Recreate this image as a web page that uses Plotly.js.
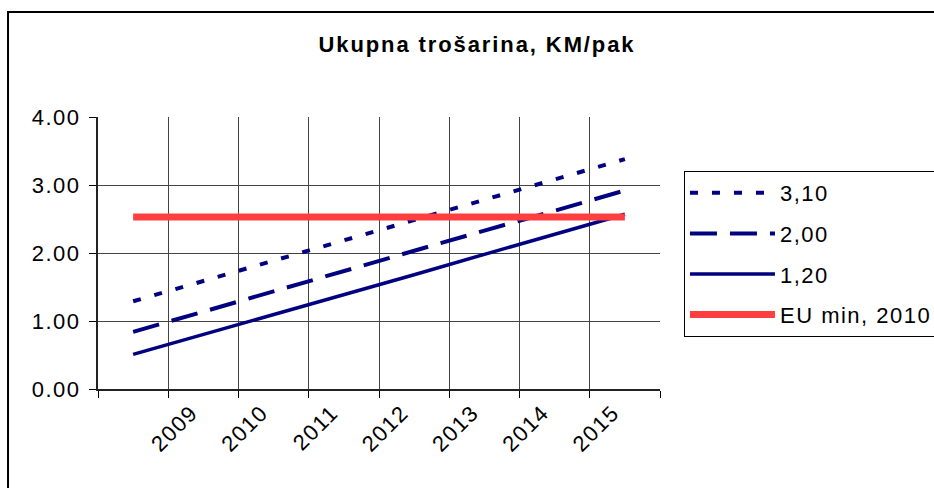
<!DOCTYPE html>
<html>
<head>
<meta charset="utf-8">
<script src="https://cdn.plot.ly/plotly-3.0.1.min.js"></script>
<style>
  body { margin: 0; padding: 0; background: #fff; }
  #chart { width: 934px; height: 488px; }
  text { letter-spacing: 1.5px; }
  text.gtitle { letter-spacing: 1.9px; }
</style>
</head>
<body>
<div id="chart"></div>
<script>
// Categories (first category has no printed label in the original)
const years = ['2008', '2009', '2010', '2011', '2012', '2013', '2014', '2015'];
const yearLabels = ['', '2009', '2010', '2011', '2012', '2013', '2014', '2015'];

// Series values (KM per pack)
const s310 = [1.29, 1.59, 1.89, 2.19, 2.48, 2.78, 3.08, 3.38];
const s200 = [0.84, 1.14, 1.43, 1.73, 2.03, 2.33, 2.62, 2.92];
const s120 = [0.51, 0.80, 1.10, 1.39, 1.68, 1.98, 2.27, 2.57];
const euMin = [2.53, 2.53, 2.53, 2.53, 2.53, 2.53, 2.53, 2.53];

const seriesNames = ['3,10', '2,00', '1,20', 'EU min, 2010'];
const yTicks = [0, 1, 2, 3, 4];

const navy = '#000080';
const FONT = '"Liberation Sans", Arial, sans-serif';

const traces = [
  { x: years, y: s310, name: seriesNames[0], mode: 'lines', legendgroup: 'a',
    line: { color: navy, width: 4, dash: '8px,14px' } },
  { x: years, y: s200, name: seriesNames[1], mode: 'lines', legendgroup: 'b',
    line: { color: navy, width: 4, dash: '27px,13px' } },
  { x: years, y: s120, name: seriesNames[2], mode: 'lines', legendgroup: 'c',
    line: { color: navy, width: 3.5 } },
  { x: years, y: euMin, name: seriesNames[3], mode: 'lines', legendgroup: 'd',
    line: { color: '#ff3f3f', width: 7 } }
];

const layout = {
  width: 934, height: 488,
  margin: { l: 98, r: 274, t: 117, b: 99, autoexpand: false },
  paper_bgcolor: '#ffffff',
  plot_bgcolor: '#ffffff',
  font: { family: FONT, size: 22, color: '#000' },
  title: {
    text: 'Ukupna trošarina, KM/pak',
    font: { family: FONT, size: 22, color: '#000', weight: 'bold' },
    xref: 'container', yref: 'container',
    x: 0.5107, xanchor: 'center',
    y: 0.909, yanchor: 'middle'
  },
  showlegend: true,
  legend: {
    xref: 'container', yref: 'container',
    x: 0.7323, xanchor: 'left',
    y: 0.6496, yanchor: 'top',
    bordercolor: '#000', borderwidth: 1,
    bgcolor: '#fff',
    font: { family: FONT, size: 22, color: '#000' },
    traceorder: 'grouped',
    tracegroupgap: 9,
    itemwidth: 85
  },
  xaxis: {
    type: 'category',
    categoryorder: 'array', categoryarray: years,
    range: [-0.5, 7.5],
    tickmode: 'array', tickvals: years, ticktext: yearLabels,
    tickson: 'boundaries',
    tickangle: -45,
    ticklabelshift: -12,
    ticks: 'outside', ticklen: 7, tickcolor: '#000', tickwidth: 1,
    showgrid: true, gridcolor: '#444', gridwidth: 1,
    showline: true, linecolor: '#222', linewidth: 2,
    zeroline: false,
    tickfont: { family: FONT, size: 22, color: '#000' },
    fixedrange: true
  },
  yaxis: {
    range: [0, 4],
    tickmode: 'array', tickvals: yTicks,
    tickformat: '.2f',
    ticks: 'outside', ticklen: 7, tickcolor: '#000', tickwidth: 1,
    ticklabelstandoff: 4,
    showgrid: true, gridcolor: '#444', gridwidth: 1,
    showline: true, linecolor: '#222', linewidth: 2,
    zeroline: false,
    tickfont: { family: FONT, size: 22, color: '#000' },
    fixedrange: true
  },
  shapes: [
    // outer chart frame (left and top edges visible in the original)
    { type: 'rect', xref: 'paper', yref: 'paper',
      x0: -0.1601, x1: 1.8, y0: -0.6, y1: 1.386,
      line: { color: '#000', width: 2 }, fillcolor: 'rgba(0,0,0,0)', layer: 'below' }
  ]
};

Plotly.newPlot('chart', traces, layout, { displayModeBar: false, staticPlot: true });
</script>
</body>
</html>
